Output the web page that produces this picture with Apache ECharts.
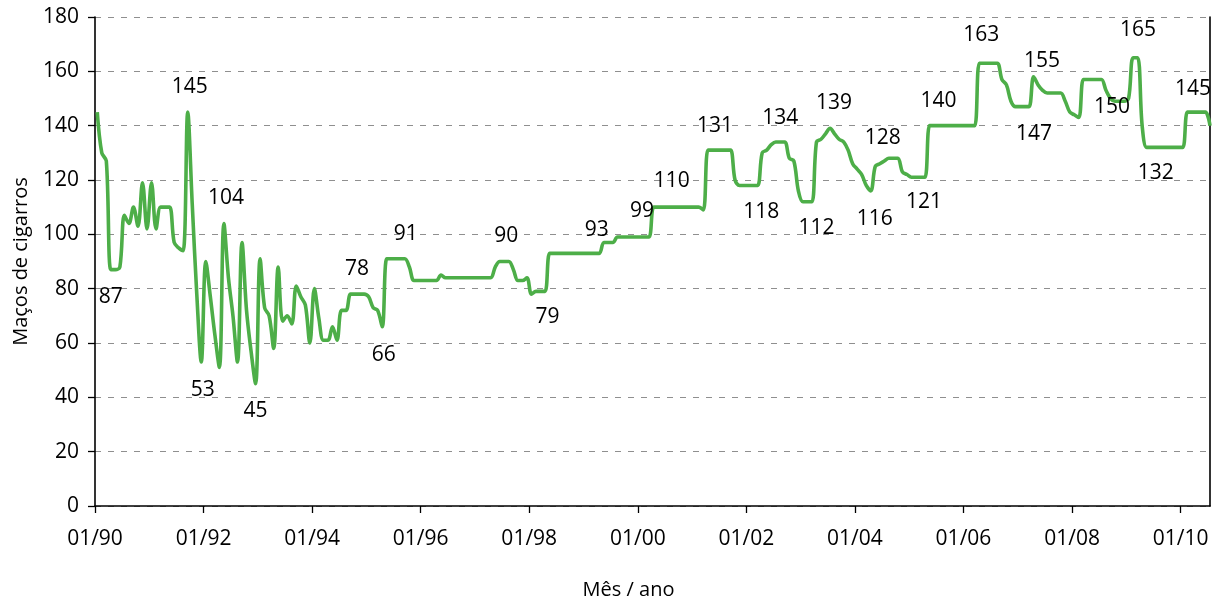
<!DOCTYPE html>
<html><head><meta charset="utf-8">
<script src="https://cdn.jsdelivr.net/npm/echarts@6/dist/echarts.min.js"></script>
<style>html,body{margin:0;padding:0;background:#fff}#c{width:1217px;height:603px}</style>
</head><body><div id="c"></div>
<script>
// Monthly series, Jan 1990 .. Jul 2010
const tickLabels = ['01/90','01/92','01/94','01/96','01/98','01/00','01/02','01/04','01/06','01/08','01/10'];
const values = [
145,130,127,87,87,88,107,104,110,103,
119,102,119,102,110,110,110,97,95,94,
145,111,78,53,90,77,63,51,104,84,
70,53,97,72,57,45,91,73,70,58,
88,68,70,67,81,77,74,60,80,69,
61,61,66,61,72,72,78,78,78,78,
77,73,72,66,91,91,91,91,91,88,
83,83,83,83,83,83,85,84,84,84,
84,84,84,84,84,84,84,84,88,90,
90,90,87,83,83,84,78,79,79,79,
93,93,93,93,93,93,93,93,93,93,
93,93,97,97,97,99,99,99,99,99,
99,99,99,110,110,110,110,110,110,110,
110,110,110,110,109,131,131,131,131,131,
131,120,118,118,118,118,118,130,131,133,
134,134,134,128,127,116,112,112,112,134,
135,137,139,137,135,134,131,126,124,122,
118,116,125,126,127,128,128,128,123,122,
121,121,121,121,140,140,140,140,140,140,
140,140,140,140,140,163,163,163,163,163,
157,155,149,147,147,147,147,158,155,153,
152,152,152,152,149,145,144,143,157,157,
157,157,157,153,150,149,149,149,150,165,
165,140,132,132,132,132,132,132,132,132,
132,145,145,145,145,145,140
];
// indices of months carrying a value label
const labelIdx = [3,20,23,28,35,57,63,66,90,99,110,120,127,137,145,151,157,162,171,175,183,186,195,206,208,224,229,234,242];

// label placement (style only): offset of label centre from the point, px
const labelOffsets = {
  3:[0,27],20:[2,-25],23:[1.5,28],28:[2,-25],35:[0,27],57:[2,-25],63:[1.5,28],66:[10,-25],
  90:[2,-25],99:[2.5,26],110:[2,-23],120:[2,-26],127:[0,-26],137:[-2,-24],145:[8,27],
  151:[0,-24],157:[9,26],162:[4,-25],171:[4,28],175:[-6,-20],183:[-1,25],186:[0,-25],
  195:[2,-28],206:[5,27],208:[4,-24],224:[1.5,8.5],229:[5,-28],234:[0,26],242:[1,-23]
};

const FONT = "'Open Sans', sans-serif";
const tickVals = tickLabels.map((_, k) => k * 24);
const lineData = values.map((v, j) => [j + 0.5, v]);
const labelData = labelIdx.map(j => ({
  value: [j + 0.5, values[j]],
  label: { offset: labelOffsets[j] || [0, 0] }
}));

const chart = echarts.init(document.getElementById('c'), null, {renderer: 'canvas'});
chart.setOption({
  animation: false,
  backgroundColor: '#fff',
  grid: { left: 95, right: 7, top: 17, bottom: 97, outerBoundsMode: 'none', containLabel: false },
  xAxis: {
    type: 'value', min: 0, max: values.length - 0.5, interval: 24,
    name: 'Mês / ano', nameLocation: 'middle', nameGap: 74,
    nameTextStyle: { fontFamily: FONT, fontSize: 20, color: '#000', padding: [0, 48, 0, 0] },
    axisLine: { show: true, lineStyle: { color: '#000', width: 1.6 } },
    axisTick: { show: true, length: 7, lineStyle: { color: '#000', width: 1.3 }, customValues: tickVals },
    axisLabel: { fontFamily: FONT, fontSize: 21, color: '#000', margin: 23, customValues: tickVals,
      formatter: v => (v % 24 === 0 && tickLabels[v / 24]) ? tickLabels[v / 24] : '' },
    splitLine: { show: false }
  },
  yAxis: [{
    type: 'value', min: 0, max: 180, interval: 20,
    name: 'Maços de cigarros', nameLocation: 'middle', nameGap: 64,
    nameTextStyle: { fontFamily: FONT, fontSize: 20, color: '#000' },
    axisLine: { show: true, lineStyle: { color: '#000', width: 1.6 } },
    axisTick: { show: true, length: 7, lineStyle: { color: '#000', width: 1.3 } },
    axisLabel: { fontFamily: FONT, fontSize: 21, color: '#000', margin: 16 },
    splitLine: { show: true, lineStyle: { color: '#8f8f8f', width: 1.2, type: [6, 7] } }
  }, {
    type: 'value', min: 0, max: 180, position: 'right',
    axisLine: { show: true, lineStyle: { color: '#000', width: 1.6 } },
    axisTick: { show: false }, axisLabel: { show: false }, splitLine: { show: false }
  }],
  series: [{
    type: 'line', data: lineData, showSymbol: false, symbol: 'none', smooth: 0.35,
    lineStyle: { color: '#4dae48', width: 3.6 }, silent: true, z: 2
  }, {
    type: 'scatter', data: labelData, symbolSize: 0, silent: true, z: 3,
    itemStyle: { color: '#000', opacity: 1 },
    label: { show: true, position: 'inside', fontFamily: FONT, fontSize: 21, color: '#000',
      opacity: 1, textBorderWidth: 0,
      formatter: p => String(p.value[1]) }
  }]
});
</script>
</body></html>
